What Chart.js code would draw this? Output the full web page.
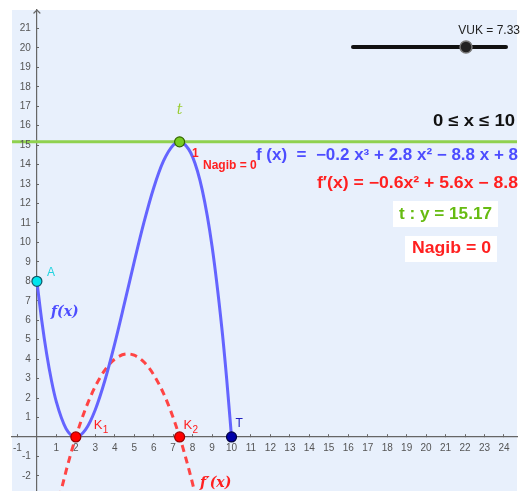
<!DOCTYPE html>
<html><head><meta charset="utf-8">
<script src="https://cdn.jsdelivr.net/npm/chart.js@4"></script>
<style>html,body{margin:0;padding:0;background:#fff}#w{width:524px;height:491px}</style>
</head><body><div id="w"><canvas id="c" width="524" height="491"></canvas></div>
<script>
// f(x) = -0.2x^3 + 2.8x^2 - 8.8x + 8 on [0,10]
const fX = [0,0.25,0.5,0.75,1,1.5,2,2.5,3,3.5,4,4.5,5,5.5,6,6.5,7,7.333,7.5,8,8.5,9,9.5,9.75,10];
const fY = [8,5.972,4.275,2.891,1.8,0.425,0,0.375,1.4,2.925,4.8,6.875,9,11.025,12.8,14.175,15,15.17,15.125,14.4,12.675,9.8,5.625,3.0,0];
// f'(x) = -0.6x^2 + 5.6x - 8.8
const dX = [0.5,1,1.5,2,2.5,3,3.5,4,4.667,5,5.5,6,6.5,7,7.333,7.5,8,8.5];
const dY = [-6.15,-3.8,-1.75,0,1.45,2.6,3.45,4,4.267,4.2,3.85,3.2,2.25,1,0,-0.55,-2.4,-4.55];
// tangent t : y = 15.17
const tX = [-3,26];
const tY = [15.17,15.17];
// named points
const pointNames = ['A','K1','K2','T','tp'];
const pointX = [0,2,7.333,10,7.333];
const pointY = [8,0,0,0,15.17];
const xRange = [-1.28,24.67];
const yRange = [-2.78,21.95];

const zip = (a,b)=>a.map((v,i)=>({x:v,y:b[i]}));
const pt = n => { const i = pointNames.indexOf(n); return [{x:pointX[i], y:pointY[i]}]; };

const ptDS = (n, fill, border) => ({
  data: pt(n), showLine:false, pointRadius:5, pointBorderWidth:1.2,
  backgroundColor:fill, borderColor:border, pointHoverRadius:5, clip:0
});

const sans = '"Liberation Sans", Arial, sans-serif';
const serif = '"DejaVu Serif", "Liberation Serif", serif';
const tickCb = v => (Number.isInteger(v) && v !== 0) ? String(v) : '';

const bgPlugin = {
  id:'bg',
  beforeDraw(ch){
    const {ctx, chartArea:a} = ch;
    ctx.save(); ctx.fillStyle='#e8f0fc';
    ctx.fillRect(a.left,a.top,a.right-a.left,a.bottom-a.top); ctx.restore();
  }
};

// y tick labels, placed from the library's y scale ticks
const yLabelPlugin = {
  id:'ylabels',
  afterDatasetsDraw(ch){
    const ctx = ch.ctx, xs = ch.scales.x, ys = ch.scales.y;
    const ox = xs.getPixelForValue(0);
    ctx.save();
    ctx.fillStyle='#555'; ctx.font='10px '+sans; ctx.textAlign='right'; ctx.textBaseline='middle';
    ys.ticks.forEach(t => { const s = tickCb(t.value); if (s) ctx.fillText(s, ox-6, ys.getPixelForValue(t.value)); });
    ctx.restore();
  }
};

function fitText(ctx, txt, left, right, y){
  const w = ctx.measureText(txt).width;
  ctx.save(); ctx.textAlign='left'; ctx.translate(left,y);
  ctx.scale((right-left)/w,1); ctx.fillText(txt,0,0); ctx.restore();
}

const textPlugin = {
  id:'texts',
  afterDraw(ch){
    const ctx = ch.ctx, xs = ch.scales.x, ys = ch.scales.y;
    const P = n => { const i = pointNames.indexOf(n); return [xs.getPixelForValue(pointX[i]), ys.getPixelForValue(pointY[i])]; };
    ctx.save();
    ctx.textBaseline='middle';
    // point labels
    let [ax,ay] = P('A');
    ctx.fillStyle='#22d3e0'; ctx.font='12px '+sans; ctx.textAlign='left';
    ctx.fillText('A', ax+10, ay-9);
    let [k1x,k1y] = P('K1');
    ctx.fillStyle='#ff2020'; ctx.font='13px '+sans;
    ctx.fillText('K', k1x+18, k1y-12);
    ctx.font='10px '+sans; ctx.fillText('1', k1x+27, k1y-7);
    let [k2x,k2y] = P('K2');
    ctx.font='13px '+sans; ctx.fillText('K', k2x+4, k2y-12);
    ctx.font='10px '+sans; ctx.fillText('2', k2x+13, k2y-7);
    let [tx,ty] = P('T');
    ctx.fillStyle='#2020c0'; ctx.font='12px '+sans; ctx.fillText('T', tx+4, ty-13);
    let [px,py] = P('tp');
    ctx.fillStyle='#9acd32'; ctx.font='italic 14px '+serif; ctx.textAlign='center';
    ctx.fillText('t', px, py-32);
    // curve labels
    ctx.textAlign='left';
    ctx.fillStyle='#4d4dff'; ctx.font='italic bold 14px '+serif;
    ctx.fillText('f(x)', 51, 312);
    ctx.fillStyle='#ff2020'; ctx.font='italic bold 14px '+serif;
    ctx.fillText('f\u2032(x)', 200, 483);
    // small labels near tangent point
    ctx.fillStyle='#ff2020'; ctx.font='bold 12px '+sans;
    ctx.fillText('1', 192, 154);
    ctx.fillText('Nagib = 0', 203, 166);
    // right side texts
    ctx.fillStyle='#111'; ctx.font='bold 16px '+sans;
    fitText(ctx, '0 \u2264 x \u2264 10', 433, 515, 122);
    ctx.fillStyle='#4d4dff'; ctx.font='bold 16px '+sans;
    fitText(ctx, 'f (x)  =  \u22120.2 x\u00b3 + 2.8 x\u00b2 \u2212 8.8 x + 8', 256, 518, 156);
    ctx.fillStyle='#ff2020'; ctx.font='bold 16px '+sans;
    fitText(ctx, 'f\u2032(x) = \u22120.6x\u00b2 + 5.6x \u2212 8.8', 317, 518, 184);
    // boxes
    ctx.fillStyle='#ffffff';
    ctx.fillRect(393,201,105,26);
    ctx.fillRect(405,236,92,26);
    ctx.fillStyle='#66bb11'; ctx.font='bold 16px '+sans;
    fitText(ctx, 't : y = 15.17', 399, 492, 215);
    ctx.fillStyle='#ff2020';
    fitText(ctx, 'Nagib = 0', 412, 491, 249);
    // slider
    ctx.strokeStyle='#111'; ctx.lineWidth=4; ctx.lineCap='round';
    ctx.beginPath(); ctx.moveTo(353,47); ctx.lineTo(506,47); ctx.stroke();
    ctx.fillStyle='#222'; ctx.strokeStyle='#777'; ctx.lineWidth=1.5;
    ctx.beginPath(); ctx.arc(466,47,6,0,Math.PI*2); ctx.fill(); ctx.stroke();
    ctx.fillStyle='#222'; ctx.font='12px '+sans; ctx.textAlign='right';
    ctx.fillText('VUK = 7.33', 520, 31);
    // y axis arrow cap
    const ox = xs.getPixelForValue(0);
    ctx.strokeStyle='#666'; ctx.lineWidth=1.2;
    ctx.beginPath(); ctx.moveTo(ox-3,13); ctx.lineTo(ox,10); ctx.lineTo(ox+3,13); ctx.stroke();
    ctx.restore();
  }
};

new Chart(document.getElementById('c'), {
  type:'scatter',
  data:{ datasets:[
    ptDS('tp','#77cc22','#336600'),
    ptDS('A','#00e5ee','#115566'),
    ptDS('K1','#ff0000','#990000'),
    ptDS('K2','#ff0000','#990000'),
    ptDS('T','#0000aa','#000044'),
    { data: zip(fX,fY), showLine:true, borderColor:'#6464ff', borderWidth:3, pointRadius:0, cubicInterpolationMode:'monotone', clip:0 },
    { data: zip(dX,dY), showLine:true, borderColor:'#ff4444', borderWidth:3, borderDash:[7,5], pointRadius:0, cubicInterpolationMode:'monotone', clip:0 },
    { data: zip(tX,tY), showLine:true, borderColor:'#8fd14f', borderWidth:3, pointRadius:0, clip:0 }
  ]},
  options:{
    responsive:false, animation:false, devicePixelRatio:1,
    layout:{ padding:{left:12, top:10, right:7, bottom:-11}, autoPadding:false },
    plugins:{ legend:{display:false}, tooltip:{enabled:false} },
    scales:{
      x:{ type:'linear', min:xRange[0], max:xRange[1], position:{y:0},
          afterFit: s => { s.height = 0; },
          grid:{ drawOnChartArea:false, drawTicks:true, tickLength:-3, color:'#666' },
          border:{ color:'#666', width:1.2 },
          ticks:{ stepSize:1, includeBounds:false, autoSkip:false, maxRotation:0, color:'#555',
                  font:{ size:10, family:sans }, padding:8, callback:tickCb } },
      y:{ type:'linear', min:yRange[0], max:yRange[1], position:{x:0},
          afterFit: s => { s.width = 0; },
          grid:{ drawOnChartArea:false, drawTicks:true, tickLength:-3, color:'#666' },
          border:{ color:'#666', width:1.2 },
          ticks:{ stepSize:1, includeBounds:false, autoSkip:false, display:false, callback:tickCb } }
    }
  },
  plugins:[bgPlugin, yLabelPlugin, textPlugin]
});
</script></body></html>
